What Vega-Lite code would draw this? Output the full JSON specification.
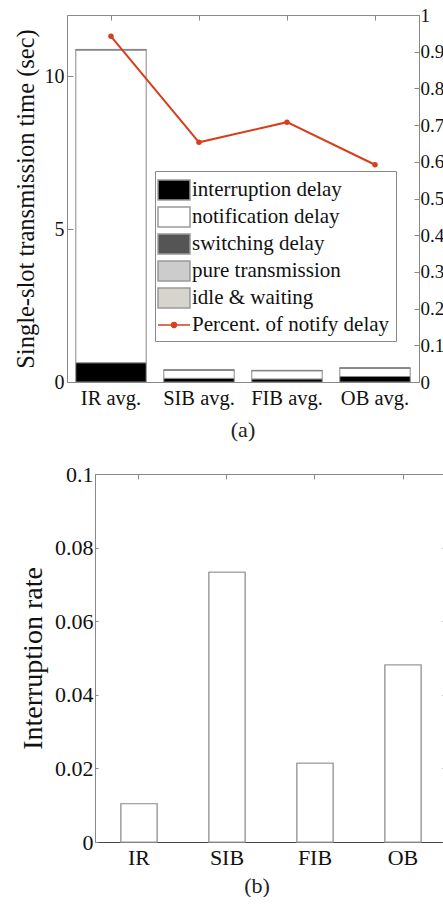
{
  "$schema": "https://vega.github.io/schema/vega-lite/v6.json",
  "padding": {"left": 12, "top": 5, "right": 0, "bottom": 0},
  "background": "white",
  "spacing": 22,
  "config": {
    "view": {"stroke": "#888888", "strokeWidth": 1},
    "axis": {
      "grid": false,
      "labelFont": "Liberation Serif",
      "labelColor": "#111111",
      "titleFont": "Liberation Serif",
      "titleColor": "#111111",
      "titleFontWeight": "normal",
      "domainColor": "#888888",
      "tickColor": "#888888"
    },
    "title": {"font": "Liberation Serif", "fontWeight": "normal", "color": "#222222", "fontSize": 22}
  },
  "datasets": {
    "timing": [
      {"cat": "IR avg.", "component": "interruption delay", "ord": 1, "sec": 0.63},
      {"cat": "IR avg.", "component": "notification delay", "ord": 2, "sec": 10.23},
      {"cat": "IR avg.", "component": "switching delay", "ord": 3, "sec": 0.005},
      {"cat": "IR avg.", "component": "pure transmission", "ord": 4, "sec": 0.005},
      {"cat": "IR avg.", "component": "idle & waiting", "ord": 5, "sec": 0.005},
      {"cat": "SIB avg.", "component": "interruption delay", "ord": 1, "sec": 0.12},
      {"cat": "SIB avg.", "component": "notification delay", "ord": 2, "sec": 0.26},
      {"cat": "SIB avg.", "component": "switching delay", "ord": 3, "sec": 0.007},
      {"cat": "SIB avg.", "component": "pure transmission", "ord": 4, "sec": 0.007},
      {"cat": "SIB avg.", "component": "idle & waiting", "ord": 5, "sec": 0.006},
      {"cat": "FIB avg.", "component": "interruption delay", "ord": 1, "sec": 0.1},
      {"cat": "FIB avg.", "component": "notification delay", "ord": 2, "sec": 0.269},
      {"cat": "FIB avg.", "component": "switching delay", "ord": 3, "sec": 0.004},
      {"cat": "FIB avg.", "component": "pure transmission", "ord": 4, "sec": 0.004},
      {"cat": "FIB avg.", "component": "idle & waiting", "ord": 5, "sec": 0.003},
      {"cat": "OB avg.", "component": "interruption delay", "ord": 1, "sec": 0.18},
      {"cat": "OB avg.", "component": "notification delay", "ord": 2, "sec": 0.272},
      {"cat": "OB avg.", "component": "switching delay", "ord": 3, "sec": 0.003},
      {"cat": "OB avg.", "component": "pure transmission", "ord": 4, "sec": 0.003},
      {"cat": "OB avg.", "component": "idle & waiting", "ord": 5, "sec": 0.002}
    ],
    "pct": [
      {"cat": "IR avg.", "pct": 0.942},
      {"cat": "SIB avg.", "pct": 0.653},
      {"cat": "FIB avg.", "pct": 0.708},
      {"cat": "OB avg.", "pct": 0.592}
    ],
    "rate": [
      {"scheme": "IR", "rate": 0.0104},
      {"scheme": "SIB", "rate": 0.0733},
      {"scheme": "FIB", "rate": 0.0214},
      {"scheme": "OB", "rate": 0.0481}
    ]
  },
  "vconcat": [
    {
      "width": 352,
      "height": 367,
      "title": {"text": "(a)", "orient": "bottom", "offset": 11, "anchor": "middle"},
      "layer": [
        {
          "data": {"name": "timing"},
          "mark": {"type": "bar", "stroke": "#888888", "strokeWidth": 1},
          "encoding": {
            "x": {
              "field": "cat", "type": "nominal",
              "sort": ["IR avg.", "SIB avg.", "FIB avg.", "OB avg."],
              "scale": {"paddingInner": 0.2, "paddingOuter": 0.1},
              "axis": {"title": null, "labelAngle": 0, "labelFontSize": 20.5, "labelPadding": 6, "ticks": false, "domain": false}
            },
            "y": {
              "field": "sec", "type": "quantitative", "stack": "zero",
              "scale": {"domain": [0, 12], "nice": false},
              "axis": {"title": "Single-slot transmission time (sec)", "titleFontSize": 24.5, "titlePadding": 6, "values": [0, 5, 10], "labelFontSize": 20, "tickSize": -6, "labelPadding": 9, "domain": false}
            },
            "fill": {
              "field": "component", "type": "nominal",
              "scale": {
                "domain": ["interruption delay", "notification delay", "switching delay", "pure transmission", "idle & waiting", "Percent. of notify delay"],
                "range": ["#000000", "#ffffff", "#555555", "#cccccc", "#d6d4cc", "#d63f1d"]
              },
              "legend": {
                "orient": "none", "legendX": 88, "legendY": 156,
                "title": null,
                "labelFont": "Liberation Serif", "labelFontSize": 21, "labelColor": "#111111",
                "labelLimit": 400,
                "labelOffset": 5,
                "strokeColor": "#888888", "fillColor": "#ffffff", "padding": 6, "cornerRadius": 0,
                "rowPadding": 1,
                "symbolSize": 576,
                "symbolStrokeColor": "#999999",
                "symbolStrokeWidth": 1.5,
                "symbolType": "M-1.333,-0.833L1.333,-0.833L1.333,0.833L-1.333,0.833Z",
                "encoding": {
                  "symbols": {
                    "shape": {"value": {"expr": "datum.value === 'Percent. of notify delay' ? 'M-1.333,0L1.333,0M-0.2,0A0.2,0.2 0 1,0 0.2,0A0.2,0.2 0 1,0 -0.2,0' : 'M-1.333,-0.833L1.333,-0.833L1.333,0.833L-1.333,0.833Z'"}},
                    "stroke": {"value": {"expr": "datum.value === 'Percent. of notify delay' ? '#d63f1d' : '#999999'"}},
                    "strokeWidth": {"value": 1.5}
                  }
                }
              }
            },
            "order": {"field": "ord", "type": "quantitative"}
          }
        },
        {
          "data": {"name": "pct"},
          "mark": {"type": "line", "strokeWidth": 2, "color": "#d63f1d", "point": {"filled": true, "size": 30, "color": "#d63f1d"}},
          "encoding": {
            "x": {
              "field": "cat", "type": "nominal",
              "sort": ["IR avg.", "SIB avg.", "FIB avg.", "OB avg."],
              "axis": {"orient": "top", "title": null, "labels": false, "domain": false, "tickSize": -5}
            },
            "y": {
              "field": "pct", "type": "quantitative",
              "scale": {"domain": [0, 1], "nice": false},
              "axis": {"orient": "right", "title": null, "values": [0, 0.1, 0.2, 0.3, 0.4, 0.5, 0.6, 0.7, 0.8, 0.9, 1], "format": ".1~f", "labelFontSize": 19, "tickSize": -5, "labelPadding": 6}
            }
          }
        }
      ],
      "resolve": {"scale": {"y": "independent"}, "axis": {"x": "independent"}}
    },
    {
      "width": 380,
      "height": 368,
      "view": {"stroke": null},
      "title": {"text": "(b)", "orient": "bottom", "offset": 8, "anchor": "middle"},
      "data": {"name": "rate"},
      "layer": [
        {
          "mark": {"type": "bar", "fill": "#ffffff", "stroke": "#999999", "strokeWidth": 1.2},
          "encoding": {
            "x": {
              "field": "scheme", "type": "nominal", "sort": ["IR", "SIB", "FIB", "OB"],
              "scale": {"range": [28, 380], "paddingInner": 0.59, "paddingOuter": 0.295},
              "axis": {"title": null, "labelAngle": 0, "labelFontSize": 22, "labelPadding": 5, "ticks": false, "domainColor": "#444444"}
            },
            "y": {
              "field": "rate", "type": "quantitative",
              "scale": {"domain": [0, 0.1], "nice": false},
              "axis": {"title": "Interruption rate", "titleFontSize": 28, "titlePadding": 7, "values": [0, 0.02, 0.04, 0.06, 0.08, 0.1], "format": "~g", "labelFontSize": 22, "offset": -28, "tickSize": -3, "labelPadding": 5}
            }
          }
        },
        {
          "mark": {"type": "bar", "fill": "#ffffff", "stroke": "#999999", "strokeWidth": 1.2},
          "encoding": {
            "x": {
              "field": "scheme", "type": "nominal", "sort": ["IR", "SIB", "FIB", "OB"],
              "axis": {"orient": "top", "title": null, "labels": false, "tickSize": -5}
            },
            "y": {
              "field": "rate", "type": "quantitative",
              "axis": {"orient": "right", "title": null, "labels": false, "values": [0, 0.02, 0.04, 0.06, 0.08, 0.1], "tickSize": -5}
            }
          }
        }
      ],
      "resolve": {"axis": {"x": "independent", "y": "independent"}}
    }
  ]
}
